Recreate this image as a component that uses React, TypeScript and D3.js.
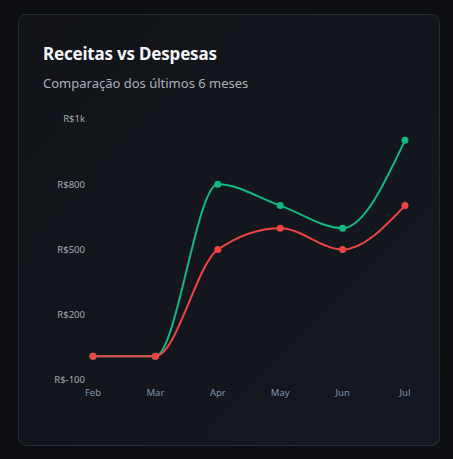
import React, { useEffect, useRef } from "react"
import * as d3 from "d3"

const months = ["Feb", "Mar", "Apr", "May", "Jun", "Jul"]
const receitas = [0, 0, 725, 635, 540, 910]
const despesas = [0, 0, 450, 540, 450, 635]
const yTickValues = [-100, 175, 450, 725, 1000]
const yTickLabels = ["R$-100", "R$200", "R$500", "R$800", "R$1k"]

const W = 453
const H = 459

const App = () => {
	const ref = useRef<SVGSVGElement>(null)

	useEffect(() => {
		const svg = d3.select(ref.current)
		svg.selectAll("*").remove()

		const font = "'Noto Sans', 'Open Sans', sans-serif"

		// background + card
		svg.append("rect").attr("width", W).attr("height", H).attr("fill", "#0c0e12")

		const defs = svg.append("defs")
		const grad = defs
			.append("linearGradient")
			.attr("id", "cardGrad")
			.attr("x1", 0)
			.attr("y1", 0)
			.attr("x2", 1)
			.attr("y2", 1)
		grad.append("stop").attr("offset", "0%").attr("stop-color", "#121419")
		grad.append("stop").attr("offset", "100%").attr("stop-color", "#141820")

		svg
			.append("rect")
			.attr("x", 18.5)
			.attr("y", 14.5)
			.attr("width", 421)
			.attr("height", 431)
			.attr("rx", 8)
			.attr("fill", "url(#cardGrad)")
			.attr("stroke", "#272c35")

		svg
			.append("text")
			.attr("x", 43)
			.attr("y", 60)
			.attr("fill", "#f5f7fa")
			.style("font-family", font)
			.style("font-size", "17px")
			.style("font-weight", 700)
			.style("letter-spacing", "-0.2px")
			.text("Receitas vs Despesas")

		svg
			.append("text")
			.attr("x", 43)
			.attr("y", 88)
			.attr("fill", "#a9b0ba")
			.style("font-family", font)
			.style("font-size", "13px")
			.text("Comparação dos últimos 6 meses")

		const x = d3.scalePoint().domain(months).range([93, 405])
		const y = d3.scaleLinear().domain([-100, 1000]).range([380, 119])

		// y axis
		const yAxis = svg.append("g")
		yAxis
			.selectAll("text")
			.data(yTickValues)
			.join("text")
			.attr("x", 85)
			.attr("y", d => y(d))
			.attr("dy", "0.35em")
			.attr("text-anchor", "end")
			.attr("fill", "#a3aab4")
			.style("font-family", font)
			.style("font-size", "9.5px")
			.text((d, i) => yTickLabels[i])

		// x axis
		svg
			.append("g")
			.selectAll("text")
			.data(months)
			.join("text")
			.attr("x", d => x(d)!)
			.attr("y", 396)
			.attr("text-anchor", "middle")
			.attr("fill", "#7f93ab")
			.style("font-family", font)
			.style("font-size", "9.5px")
			.text(d => d)

		const series = [
			{ key: "receitas", values: receitas, color: "#10b981" },
			{ key: "despesas", values: despesas, color: "#ef4444" },
		]

		const line = d3
			.line<number>()
			.x((d, i) => x(months[i])!)
			.y(d => y(d))
			.curve(d3.curveMonotoneX)

		series.forEach(s => {
			svg
				.append("path")
				.datum(s.values)
				.attr("d", line)
				.attr("fill", "none")
				.attr("stroke", s.color)
				.attr("stroke-width", 2)

			svg
				.append("g")
				.selectAll("circle")
				.data(s.values)
				.join("circle")
				.attr("cx", (d, i) => x(months[i])!)
				.attr("cy", d => y(d))
				.attr("r", 3.5)
				.attr("fill", s.color)
		})
	}, [])

	return (
		<svg
			ref={ref}
			width={W}
			height={H}
			style={{ position: "absolute", left: 0, top: 0, display: "block" }}
		></svg>
	)
}

export default App
